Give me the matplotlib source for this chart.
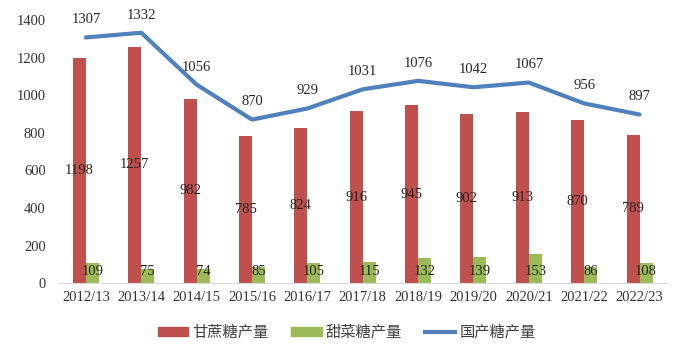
import matplotlib
matplotlib.use("Agg")
import matplotlib.pyplot as plt
import numpy as np
from matplotlib.lines import Line2D
from matplotlib.patches import Patch

seasons = ["2012/13", "2013/14", "2014/15", "2015/16", "2016/17", "2017/18",
           "2018/19", "2019/20", "2020/21", "2021/22", "2022/23"]
cane_sugar = [1198, 1257, 982, 785, 824, 916, 945, 902, 913, 870, 789]
beet_sugar = [109, 75, 74, 85, 105, 115, 132, 139, 153, 86, 108]
total_sugar = [1307, 1332, 1056, 870, 929, 1031, 1076, 1042, 1067, 956, 897]

RED = "#C0504D"
GREEN = "#9BBB59"
BLUE = "#4F81BD"
NUM_FONT = "Liberation Serif"
CJK_FONT = ["Noto Sans CJK SC", "DejaVu Sans"]

fig = plt.figure(figsize=(6.85, 3.5), dpi=100)
ax = fig.add_axes([0.085, 0.191, 0.889, 0.752])

x = np.arange(len(seasons))
w = 0.235
ax.bar(x - w / 2, cane_sugar, width=w, color=RED, zorder=2)
ax.bar(x + w / 2, beet_sugar, width=w, color=GREEN, zorder=2)
ax.plot(x, total_sugar, color=BLUE, lw=3, solid_capstyle="round", zorder=3)

txt_kw = dict(fontsize=10.5, family=NUM_FONT, color="#262626", zorder=4)
for xi, v in zip(x, cane_sugar):
    ax.text(xi - w / 2, v / 2, str(v), ha="center", va="center", **txt_kw)
for xi, v in zip(x, beet_sugar):
    ax.annotate(str(v), (xi + w / 2, 0), xytext=(0, 4), textcoords="offset points",
                ha="center", va="bottom", **txt_kw)
for xi, v in zip(x, total_sugar):
    ax.annotate(str(v), (xi, v), xytext=(0, 8), textcoords="offset points",
                ha="center", va="bottom", **txt_kw)

ax.set_xlim(-0.5, len(seasons) - 0.5)
ax.set_ylim(0, 1400)
ax.set_yticks(range(0, 1401, 200))
ax.set_xticks(x)
ax.set_xticklabels(seasons)
for lab in ax.get_xticklabels() + ax.get_yticklabels():
    lab.set_family(NUM_FONT)
    lab.set_fontsize(10.5)
    lab.set_color("#333333")
ax.tick_params(axis="both", length=0)
ax.tick_params(axis="y", pad=9)
ax.tick_params(axis="x", pad=6)
for s in ["top", "right", "left"]:
    ax.spines[s].set_visible(False)
ax.spines["bottom"].set_color("#D9D9D9")

handles = [Patch(color=RED), Patch(color=GREEN), Line2D([], [], color=BLUE, lw=3)]
labels = ["甘蔗糖产量", "甜菜糖产量", "国产糖产量"]
fig.legend(handles, labels, loc="center", bbox_to_anchor=(0.506, 0.05), ncol=3,
           frameon=False,
           prop={"family": CJK_FONT, "size": 11, "weight": "light"},
           labelcolor="#404040",
           handlelength=2.0, handleheight=0.55, columnspacing=1.5, handletextpad=0.25)

fig.savefig("out.png", dpi=100)
